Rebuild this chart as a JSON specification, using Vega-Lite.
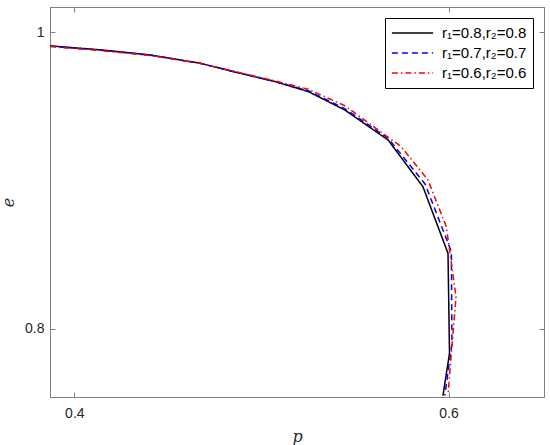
{
  "$schema": "https://vega.github.io/schema/vega-lite/v6.json",
  "width": 494,
  "height": 390,
  "autosize": {"type": "none"},
  "padding": {"left": 50, "top": 7, "right": 6, "bottom": 48},
  "background": "white",
  "config": {
    "view": {"stroke": "#808080", "strokeWidth": 1},
    "axis": {
      "grid": false,
      "domainColor": "#808080",
      "tickColor": "#808080",
      "labelColor": "#262626",
      "labelFont": "Liberation Sans",
      "labelFontSize": 14,
      "tickSize": -5,
      "titleFont": "DejaVu Serif",
      "titleFontStyle": "italic",
      "titleFontWeight": "normal",
      "titleFontSize": 16,
      "titleColor": "#262626"
    },
    "legend": {
      "orient": "top-right",
      "offset": 11,
      "strokeColor": "#000000",
      "fillColor": "white",
      "padding": 6,
      "labelFont": "Liberation Sans",
      "labelFontSize": 15,
      "labelColor": "#000000",
      "symbolType": "stroke",
      "symbolSize": 1700,
      "symbolStrokeWidth": 1.5,
      "clipHeight": 18,
      "rowPadding": 2,
      "labelOffset": 8
    }
  },
  "data": {
    "values": [
      {"s": "r₁=0.8,r₂=0.8", "i": 0, "p": 0.387, "e": 0.9908},
      {"s": "r₁=0.8,r₂=0.8", "i": 1, "p": 0.414, "e": 0.9881},
      {"s": "r₁=0.8,r₂=0.8", "i": 2, "p": 0.4405, "e": 0.9847},
      {"s": "r₁=0.8,r₂=0.8", "i": 3, "p": 0.4672, "e": 0.9791},
      {"s": "r₁=0.8,r₂=0.8", "i": 4, "p": 0.485, "e": 0.9734},
      {"s": "r₁=0.8,r₂=0.8", "i": 5, "p": 0.5072, "e": 0.9667},
      {"s": "r₁=0.8,r₂=0.8", "i": 6, "p": 0.525, "e": 0.96},
      {"s": "r₁=0.8,r₂=0.8", "i": 7, "p": 0.5445, "e": 0.9476},
      {"s": "r₁=0.8,r₂=0.8", "i": 8, "p": 0.5677, "e": 0.9273},
      {"s": "r₁=0.8,r₂=0.8", "i": 9, "p": 0.5863, "e": 0.8958},
      {"s": "r₁=0.8,r₂=0.8", "i": 10, "p": 0.5997, "e": 0.8509},
      {"s": "r₁=0.8,r₂=0.8", "i": 11, "p": 0.6005, "e": 0.7834},
      {"s": "r₁=0.8,r₂=0.8", "i": 12, "p": 0.597, "e": 0.755},
      {"s": "r₁=0.7,r₂=0.7", "i": 0, "p": 0.387, "e": 0.9906},
      {"s": "r₁=0.7,r₂=0.7", "i": 1, "p": 0.414, "e": 0.9879},
      {"s": "r₁=0.7,r₂=0.7", "i": 2, "p": 0.4405, "e": 0.9845},
      {"s": "r₁=0.7,r₂=0.7", "i": 3, "p": 0.4672, "e": 0.979},
      {"s": "r₁=0.7,r₂=0.7", "i": 4, "p": 0.485, "e": 0.9735},
      {"s": "r₁=0.7,r₂=0.7", "i": 5, "p": 0.5072, "e": 0.9668},
      {"s": "r₁=0.7,r₂=0.7", "i": 6, "p": 0.525, "e": 0.9605},
      {"s": "r₁=0.7,r₂=0.7", "i": 7, "p": 0.5445, "e": 0.9485},
      {"s": "r₁=0.7,r₂=0.7", "i": 8, "p": 0.5677, "e": 0.9285},
      {"s": "r₁=0.7,r₂=0.7", "i": 9, "p": 0.5875, "e": 0.8975},
      {"s": "r₁=0.7,r₂=0.7", "i": 10, "p": 0.6015, "e": 0.852},
      {"s": "r₁=0.7,r₂=0.7", "i": 11, "p": 0.6018, "e": 0.79},
      {"s": "r₁=0.7,r₂=0.7", "i": 12, "p": 0.598, "e": 0.755},
      {"s": "r₁=0.6,r₂=0.6", "i": 0, "p": 0.387, "e": 0.9903},
      {"s": "r₁=0.6,r₂=0.6", "i": 1, "p": 0.414, "e": 0.9876},
      {"s": "r₁=0.6,r₂=0.6", "i": 2, "p": 0.4405, "e": 0.9843},
      {"s": "r₁=0.6,r₂=0.6", "i": 3, "p": 0.4672, "e": 0.979},
      {"s": "r₁=0.6,r₂=0.6", "i": 4, "p": 0.485, "e": 0.9737},
      {"s": "r₁=0.6,r₂=0.6", "i": 5, "p": 0.5072, "e": 0.9672},
      {"s": "r₁=0.6,r₂=0.6", "i": 6, "p": 0.525, "e": 0.9615},
      {"s": "r₁=0.6,r₂=0.6", "i": 7, "p": 0.5445, "e": 0.9505},
      {"s": "r₁=0.6,r₂=0.6", "i": 8, "p": 0.5747, "e": 0.9228},
      {"s": "r₁=0.6,r₂=0.6", "i": 9, "p": 0.589, "e": 0.9003},
      {"s": "r₁=0.6,r₂=0.6", "i": 10, "p": 0.5988, "e": 0.8688},
      {"s": "r₁=0.6,r₂=0.6", "i": 11, "p": 0.604, "e": 0.8216},
      {"s": "r₁=0.6,r₂=0.6", "i": 12, "p": 0.6013, "e": 0.781},
      {"s": "r₁=0.6,r₂=0.6", "i": 13, "p": 0.5997, "e": 0.755}
    ]
  },
  "layer": [
    {
      "mark": {"type": "line", "strokeWidth": 1.5, "clip": true},
      "encoding": {
        "x": {
          "field": "p", "type": "quantitative",
          "scale": {"domain": [0.387, 0.651], "nice": false, "zero": false},
          "axis": {"values": [0.4, 0.6], "format": "~g", "title": "p", "labelPadding": 14, "titlePadding": 8}
        },
        "y": {
          "field": "e", "type": "quantitative",
          "scale": {"domain": [0.754, 1.017], "nice": false, "zero": false},
          "axis": {"values": [0.8, 1], "format": "~g", "title": "e", "labelPadding": 11, "titlePadding": 8}
        },
        "order": {"field": "i", "type": "quantitative"},
        "color": {
          "field": "s", "type": "nominal",
          "scale": {"domain": ["r₁=0.8,r₂=0.8", "r₁=0.7,r₂=0.7", "r₁=0.6,r₂=0.6"], "range": ["#000000", "#0000ff", "#ff0000"]},
          "legend": {"title": null}
        },
        "strokeDash": {
          "field": "s", "type": "nominal",
          "scale": {"domain": ["r₁=0.8,r₂=0.8", "r₁=0.7,r₂=0.7", "r₁=0.6,r₂=0.6"], "range": [[1, 0], [6, 4], [6, 3, 1.5, 3]]},
          "legend": {"title": null}
        }
      }
    },
    {
      "mark": {"type": "line", "opacity": 0},
      "encoding": {
        "x": {"field": "p", "type": "quantitative", "axis": {"orient": "top", "values": [0.4, 0.6], "labels": false, "title": null}},
        "y": {"field": "e", "type": "quantitative", "axis": {"orient": "right", "values": [0.8, 1], "labels": false, "title": null}},
        "detail": {"field": "s", "type": "nominal"}
      }
    }
  ],
  "resolve": {"axis": {"x": "independent", "y": "independent"}}
}
